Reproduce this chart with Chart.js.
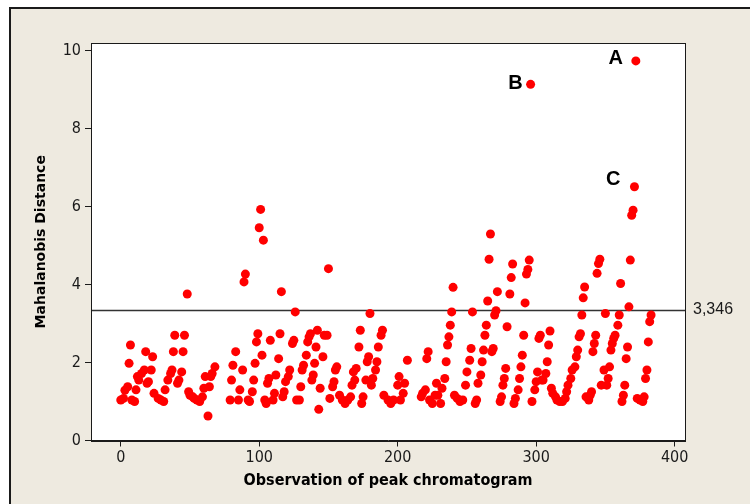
<!DOCTYPE html>
<html>
<head>
<meta charset="utf-8">
<script src="https://cdn.jsdelivr.net/npm/chart.js@4.4.1/dist/chart.umd.min.js"></script>
<style>
  html, body { margin: 0; padding: 0; background: #fff; }
  canvas { display: block; }
</style>
</head>
<body>
<canvas id="chart" width="750" height="504"></canvas>
<script>
// Observación (índice del pico) y distancia de Mahalanobis
const obs = [
  0, 2, 3, 5, 6, 7, 8, 10, 11, 12, 13, 15, 17, 18, 19, 20, 22, 23, 24, 27,
  29, 31, 32, 34, 36, 37, 38, 39, 41, 42, 44, 45, 46, 48, 49, 50, 52, 53, 55, 57,
  59, 60, 61, 63, 64, 65, 66, 68,
  79, 80, 81, 83, 85, 86, 88, 89, 90, 92, 93, 95, 96, 97, 98, 99, 100, 101, 102, 103,
  104, 105, 106, 107, 108, 110, 111, 112, 114, 115, 116, 117, 118, 119, 121, 122, 124, 125, 126, 127,
  129, 130, 131, 132, 134, 135, 136, 137, 138, 139, 140, 141, 142, 143, 144, 146, 147, 149, 150,
  151, 153, 154, 155, 156, 158, 160, 162, 164, 166, 167, 168, 169, 170, 172, 173, 174, 175, 177, 178,
  179, 180, 181, 182, 184, 185, 186, 188, 189, 190, 193, 195, 197, 200, 201, 202, 204, 205, 207,
  217, 218, 220, 221, 222, 223, 225, 227, 228, 229, 231, 232, 234, 235, 236, 237, 238, 239, 240, 241,
  243, 245, 247, 249, 250, 252, 253, 254, 256, 257, 258, 260, 261, 262, 263, 264, 265, 266, 267, 268,
  269, 270, 271, 272, 274, 275, 276, 277, 278, 279, 281, 282, 283, 284, 285, 287, 288, 289, 290, 291,
  292, 293, 294, 295, 296, 297, 299, 300, 301, 302, 303, 304, 305, 307, 308, 309, 310, 311, 312, 314,
  315, 317, 319, 321, 322, 323, 325, 326, 328, 329, 330, 331, 332, 333, 334, 335, 336, 338, 339, 340,
  341, 342, 343, 344, 345, 346, 347, 349, 350, 351, 352, 353, 354, 355, 356, 357, 359, 360, 361, 362,
  363, 364, 365, 366, 367, 368, 369, 370, 371, 372, 373, 375, 377, 378, 379, 380, 381, 382, 383
];
const distance = [
  1.04, 1.08, 1.29, 1.38, 1.98, 2.45, 1.04, 1.00, 1.30, 1.64, 1.55, 1.72, 1.81, 2.28, 1.47, 1.51, 1.81, 2.15, 1.21, 1.08,
  1.04, 1.00, 1.30, 1.55, 1.72, 1.81, 2.28, 2.70, 1.47, 1.55, 1.76, 2.28, 2.70, 3.76, 1.25, 1.16, 1.12, 1.08, 1.04, 1.00,
  1.12, 1.34, 1.64, 0.63, 1.38, 1.64, 1.72, 1.89,
  1.04, 1.55, 1.93, 2.28, 1.04, 1.30, 1.81, 4.07, 4.27, 1.04, 1.00, 1.25, 1.55, 1.98, 2.53, 2.74, 5.46, 5.93, 2.19, 5.14,
  1.04, 0.95, 1.47, 1.59, 2.57, 1.04, 1.21, 1.68, 2.10, 2.74, 3.82, 1.12, 1.25, 1.51, 1.64, 1.81, 2.49, 2.57, 3.30, 1.04,
  1.04, 1.38, 1.81, 1.93, 2.19, 2.53, 2.66, 2.74, 1.55, 1.68, 1.98, 2.40, 2.83, 0.80, 1.34, 2.15, 2.70, 2.70, 4.41,
  1.08, 1.38, 1.51, 1.81, 1.89, 1.16, 1.04, 0.95, 1.04, 1.12, 1.42, 1.76, 1.55, 1.85, 2.40, 2.83, 0.95, 1.12, 1.55, 2.02,
  2.15, 3.26, 1.42, 1.59, 1.81, 2.02, 2.40, 2.70, 2.83, 1.16, 1.04, 0.95, 1.04, 1.42, 1.64, 1.04, 1.21, 1.47, 2.06,
  1.12, 1.21, 1.30, 2.10, 2.28, 1.04, 0.95, 1.16, 1.47, 1.16, 0.95, 1.34, 1.59, 2.02, 2.45, 2.66, 2.96, 3.30, 3.93, 1.16,
  1.08, 1.00, 1.04, 1.42, 1.76, 2.06, 2.36, 3.30, 0.95, 1.04, 1.47, 1.68, 2.02, 2.32, 2.70, 2.96, 3.58, 4.65, 5.30, 2.28,
  2.36, 3.22, 3.33, 3.82, 1.00, 1.12, 1.42, 1.59, 1.85, 2.92, 3.76, 4.18, 4.53, 0.95, 1.08, 1.30, 1.59, 1.89, 2.19, 2.70,
  3.53, 4.27, 4.39, 4.63, 9.14, 1.00, 1.30, 1.51, 1.76, 2.62, 2.70, 1.55, 1.55, 1.72, 2.02, 2.45, 2.81, 1.34, 1.21, 1.12,
  1.04, 1.00, 1.00, 1.08, 1.25, 1.42, 1.59, 1.81, 1.89, 2.15, 2.32, 2.66, 2.74, 3.22, 3.66, 3.94, 1.12, 1.04, 1.16, 1.25,
  2.28, 2.49, 2.70, 4.29, 4.54, 4.65, 1.42, 1.81, 3.26, 1.42, 1.59, 1.89, 2.32, 2.49, 2.62, 2.70, 2.96, 3.22, 4.03, 1.00,
  1.16, 1.42, 2.10, 2.40, 3.43, 4.63, 5.78, 5.91, 6.51, 9.74, 1.08, 1.04, 1.00, 1.12, 1.59, 1.81, 2.53, 3.05, 3.22
];

// Valor de corte y puntos atípicos rotulados
const cutoff = 3.346;
const outlierNames = ['A', 'B', 'C'];
const outlierObs   = [372, 296, 371];

const xTicks = [0, 100, 200, 300, 400];
const yTicks = [0, 2, 4, 6, 8, 10];

const ink   = '#1a1a1a';
const beige = '#eeeae0';
const tickFont  = { family: '"DejaVu Sans Condensed", "DejaVu Sans", sans-serif', size: 16 };

const outlierOffsets = { A: [-13, -2], B: [-8, -1], C: [-14, -7] };

const framePlugin = {
    id: 'frame',
    beforeDraw(chart) {
        const { ctx, width, height, chartArea: a } = chart;
        ctx.save();
        ctx.fillStyle = '#ffffff';
        ctx.fillRect(0, 0, width, height);
        ctx.fillStyle = beige;
        ctx.fillRect(9, 7, width - 9, height - 7);
        ctx.fillStyle = ink;
        ctx.fillRect(9, 7, width - 9, 2);
        ctx.fillRect(9, 7, 2, height - 7);
        ctx.fillStyle = '#ffffff';
        ctx.fillRect(a.left, a.top, a.right - a.left, a.bottom - a.top);
        ctx.restore();
    },
    beforeDatasetsDraw(chart) {
        const { ctx, chartArea: a, scales: { y } } = chart;
        const yy = Math.round(y.getPixelForValue(cutoff)) + 0.5;
        ctx.save();
        ctx.strokeStyle = '#333333';
        ctx.lineWidth = 1.3;
        ctx.beginPath();
        ctx.moveTo(a.left, yy);
        ctx.lineTo(a.right, yy);
        ctx.stroke();
        ctx.fillStyle = ink;
        ctx.font = '16px "Liberation Sans", Arial, sans-serif';
        ctx.textAlign = 'left';
        ctx.textBaseline = 'middle';
        ctx.fillText(cutoff.toFixed(3).replace('.', ','), a.right + 8, yy - 1);
        ctx.restore();
    },
    afterDatasetsDraw(chart) {
        const { ctx, chartArea: a, scales: { x, y } } = chart;
        ctx.save();
        ctx.strokeStyle = ink;
        ctx.lineWidth = 1;
        ctx.strokeRect(Math.round(a.left) + 0.5, Math.round(a.top) + 0.5,
            Math.round(a.right - a.left), Math.round(a.bottom - a.top));
        ctx.fillStyle = '#000000';
        ctx.font = 'bold 20px "Liberation Sans", Arial, sans-serif';
        ctx.textAlign = 'right';
        ctx.textBaseline = 'middle';
        outlierNames.forEach((name, i) => {
            const idx = obs.indexOf(outlierObs[i]);
            const [dx, dy] = outlierOffsets[name];
            ctx.fillText(name, x.getPixelForValue(obs[idx]) + dx, y.getPixelForValue(distance[idx]) + dy);
        });
        ctx.restore();
    },
};

new Chart(document.getElementById('chart'), {
    type: 'scatter',
    data: {
        datasets: [{
            data: obs.map((v, i) => ({ x: v, y: distance[i] })),
            backgroundColor: '#ff0000',
            borderWidth: 0,
            pointRadius: 4.5,
            pointHoverRadius: 4.5,
        }],
    },
    options: {
        responsive: false,
        animation: false,
        devicePixelRatio: 1,
        layout: { padding: { top: 43, right: 65, left: 0, bottom: 0 } },
        plugins: { legend: { display: false }, tooltip: { enabled: false } },
        scales: {
            x: {
                type: 'linear',
                min: -21.5,
                max: 407.5,
                afterBuildTicks: (s) => { s.ticks = xTicks.map((v) => ({ value: v })); },
                afterFit: (s) => { s.height = 63.5; },
                grid: { drawOnChartArea: false, tickLength: 6, color: ink, tickColor: ink },
                border: { color: ink },
                ticks: { font: tickFont, color: ink, padding: 2, maxRotation: 0 },
                title: {
                    display: true,
                    text: 'Observation of peak chromatogram',
                    color: '#000',
                    font: { family: '"DejaVu Sans Condensed", "DejaVu Sans", sans-serif', size: 16, weight: 'bold' },
                    padding: { top: 0, bottom: 14 },
                },
            },
            y: {
                min: 0,
                max: 10.2,
                afterBuildTicks: (s) => { s.ticks = yTicks.map((v) => ({ value: v })); },
                afterFit: (s) => { s.width = 91; },
                grid: { drawOnChartArea: false, tickLength: 6, color: ink, tickColor: ink },
                border: { color: ink },
                ticks: { font: tickFont, color: ink, padding: 4 },
                title: {
                    display: true,
                    text: 'Mahalanobis Distance',
                    color: '#000',
                    font: { family: '"DejaVu Sans", sans-serif', size: 14, weight: 'bold' },
                    padding: { top: 33, bottom: 0 },
                },
            },
        },
    },
    plugins: [framePlugin],
});
</script>
</body>
</html>
